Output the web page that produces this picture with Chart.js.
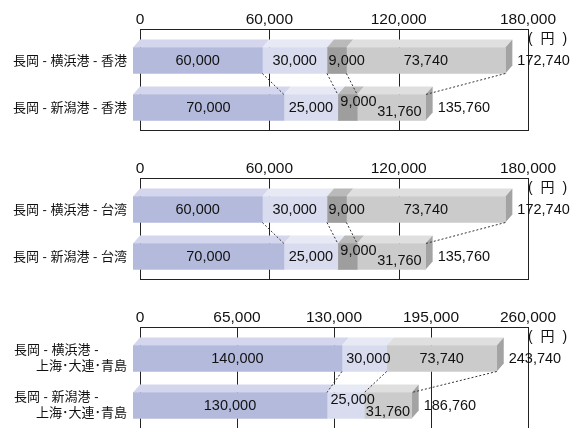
<!DOCTYPE html>
<html>
<head>
<meta charset="utf-8">
<script src="https://cdn.jsdelivr.net/npm/chart.js@4.4.0/dist/chart.umd.min.js"></script>
<style>
  body { margin: 0; background: #fff; width: 579px; height: 428px; overflow: hidden; position: relative; }
  canvas { position: absolute; left: 0; }
</style>
</head>
<body>
<canvas id="c1" width="579" height="149" style="top:0"></canvas>
<canvas id="c2" width="579" height="149" style="top:149px"></canvas>
<canvas id="c3" width="579" height="130" style="top:298px"></canvas>
<script>
    // routes (row 1 = via Yokohama, row 2 = via Niigata)
    const routesHK = ['長岡 - 横浜港 - 香港', '長岡 - 新潟港 - 香港'];
    const routesTW = ['長岡 - 横浜港 - 台湾', '長岡 - 新潟港 - 台湾'];
    const routesCN = [['長岡 - 横浜港 -', '上海･大連･青島'], ['長岡 - 新潟港 -', '上海･大連･青島']];

    // cost parts in yen, Hong Kong / Taiwan
    const inland = [60000, 70000];
    const port = [30000, 25000];
    const extra = [9000, 9000];
    const sea = [73740, 31760];

    // cost parts in yen, Shanghai / Dalian / Qingdao
    const inlandCN = [140000, 130000];
    const portCN = [30000, 25000];
    const extraCN = [null, null];
    const seaCN = [73740, 31760];

    // axis ticks
    const ticksHK = [0, 60000, 120000, 180000];
    const ticksCN = [0, 65000, 130000, 195000, 260000];

    const FONT = '"Liberation Sans", "Noto Sans CJK JP", sans-serif';
    const FRONT = ['#b4badc', '#d9dcef', '#9e9e9e', '#cbcbcb'];
    const TOP = ['#d3d6ec', '#e7e9f5', '#bababa', '#dfdfdf'];
    const SIDE = '#a3a3a3';
    const DX = 7, DY = 8;   // depth of the 3d bars
    const AREA_BOTTOM = 123;

    const fmt = v => v.toLocaleString('en-US');

    function poly(ctx, pts, fill) {
        ctx.beginPath();
        ctx.moveTo(pts[0][0], pts[0][1]);
        pts.slice(1).forEach(p => ctx.lineTo(p[0], p[1]));
        ctx.closePath();
        ctx.fillStyle = fill;
        ctx.fill();
    }

    function line(ctx, x0, y0, x1, y1) {
        ctx.beginPath();
        ctx.moveTo(x0, y0);
        ctx.lineTo(x1, y1);
        ctx.stroke();
    }

    // segments that have a value in row j
    function rowSegments(chart, j) {
        const out = [];
        chart.data.datasets.forEach((ds, i) => {
            if (!ds.data[j]) return;
            const el = chart.getDatasetMeta(i).data[j];
            out.push({ i, v: ds.data[j], x0: el.base, x1: el.x, y: el.y, h: el.height });
        });
        return out;
    }

    const bar3d = {
        id: 'bar3d',
        beforeDatasetsDraw(chart) {
            const { ctx, chartArea: a, scales: { x } } = chart;
            const opt = chart.options.plugins.bar3d;
            const bottom = opt.boxBottom || chart.height;

            ctx.save();
            ctx.strokeStyle = '#222';
            ctx.lineWidth = 1;
            x.ticks.forEach(t => {
                const px = Math.round(x.getPixelForValue(t.value)) + 0.5;
                line(ctx, px, a.top, px, bottom);
            });
            const top = Math.round(a.top) + 0.5;
            line(ctx, Math.round(a.left), top, Math.round(a.right) + 1, top);
            if (opt.boxBottom) {
                const b = Math.round(bottom) - 0.5;
                line(ctx, Math.round(a.left), b, Math.round(a.right) + 1, b);
            }

            // top and side faces
            [0, 1].forEach(j => {
                const segs = rowSegments(chart, j);
                segs.forEach(s => {
                    const yT = s.y - s.h / 2;
                    poly(ctx, [[s.x0 - DX, yT + DY], [s.x1 - DX, yT + DY], [s.x1, yT], [s.x0, yT]], TOP[s.i]);
                });
                const last = segs[segs.length - 1];
                const yT = last.y - last.h / 2, yB = last.y + last.h / 2;
                poly(ctx, [[last.x1 - DX, yT + DY], [last.x1, yT], [last.x1, yB], [last.x1 - DX, yB + DY]], SIDE);
            });
            ctx.restore();

            // front faces are the library's bars moved forward
            ctx.save();
            ctx.translate(-DX, DY);
        },
        afterDatasetsDraw(chart) {
            const { ctx, chartArea: a } = chart;
            const opt = chart.options.plugins.bar3d;
            ctx.restore();

            ctx.save();
            const rows = [rowSegments(chart, 0), rowSegments(chart, 1)];

            // dashed connectors between the two rows
            ctx.strokeStyle = '#333';
            ctx.lineWidth = 1;
            ctx.setLineDash([2, 2]);
            const r0 = rows[0], r1 = rows[1];
            for (let k = 0; k < Math.min(r0.length, r1.length); k++) {
                const yB0 = r0[k].y + r0[k].h / 2 + DY;
                const yT1 = r1[k].y - r1[k].h / 2 + DY;
                line(ctx, r0[k].x1 - DX, yB0, r1[k].x1 - DX, yT1);
            }
            ctx.setLineDash([]);

            // values in the segments and totals
            ctx.fillStyle = '#111';
            ctx.textBaseline = 'middle';
            ctx.font = '14.5px ' + FONT;
            rows.forEach((segs, j) => {
                segs.forEach(s => {
                    const sh = opt.shift[s.i + ',' + j] || [0, 0];
                    ctx.textAlign = 'center';
                    ctx.fillText(fmt(s.v), (s.x0 + s.x1) / 2 - DX + sh[0], s.y + DY + sh[1]);
                });
                const last = segs[segs.length - 1];
                const total = segs.reduce((sum, s) => sum + s.v, 0);
                ctx.textAlign = 'left';
                ctx.fillText(fmt(total), last.x1 + 5, last.y + DY);
            });

            // route names
            ctx.font = '13px ' + FONT;
            chart.data.labels.forEach((lab, j) => {
                const cy = chart.scales.y.getPixelForValue(j) + DY;
                if (Array.isArray(lab)) {
                    ctx.textAlign = 'left';
                    ctx.fillText(lab[0], 14, cy - 8);
                    ctx.textAlign = 'right';
                    ctx.fillText(lab[1], 127, cy + 8);
                } else {
                    ctx.textAlign = 'right';
                    ctx.fillText(lab, 127, cy + 1);
                }
            });

            // unit
            ctx.textAlign = 'left';
            ctx.font = '14px ' + FONT;
            ctx.letterSpacing = '2px';
            ctx.fillText('( 円 )', a.right, a.top + 10);
            ctx.restore();
        }
    };

    function makePanel(id, labels, parts, tickValues, boxBottom, shift) {
        const canvas = document.getElementById(id);
        return new Chart(canvas.getContext('2d'), {
            type: 'bar',
            data: {
                labels: labels,
                datasets: parts.map((d, i) => ({
                    data: d,
                    backgroundColor: FRONT[i],
                    borderWidth: 0,
                    barThickness: 26
                }))
            },
            options: {
                indexAxis: 'y',
                responsive: false,
                animation: false,
                layout: { padding: { left: 0, right: 51, top: 0, bottom: canvas.height - AREA_BOTTOM } },
                plugins: {
                    legend: { display: false },
                    tooltip: { enabled: false },
                    bar3d: { boxBottom: boxBottom, shift: shift }
                },
                scales: {
                    x: {
                        type: 'linear',
                        position: 'top',
                        stacked: true,
                        min: 0,
                        max: tickValues[tickValues.length - 1],
                        afterBuildTicks: s => { s.ticks = tickValues.map(v => ({ value: v })); },
                        afterFit: s => { s.height = 29; },
                        grid: { display: false, drawTicks: false },
                        border: { display: false },
                        ticks: {
                            autoSkip: false,
                            maxRotation: 0,
                            padding: 0,
                            color: '#111',
                            font: { family: FONT, size: 15.5 },
                            callback: v => fmt(v)
                        }
                    },
                    y: {
                        stacked: true,
                        afterFit: s => { s.width = 140; },
                        grid: { display: false },
                        border: { display: false },
                        ticks: { display: false }
                    }
                }
            },
            plugins: [bar3d]
        });
    }

    makePanel('c1', routesHK, [inland, port, extra, sea], ticksHK, 131,
        { '2,0': [10, 0], '2,1': [11, -6], '3,1': [8, 4] });
    makePanel('c2', routesTW, [inland, port, extra, sea], ticksHK, 131,
        { '2,0': [10, 0], '2,1': [11, -6], '3,1': [8, 4] });
    makePanel('c3', routesCN, [inlandCN, portCN, extraCN, seaCN], ticksCN, null,
        { '1,0': [4, 0], '1,1': [7, -6], '3,1': [0, 6] });
</script>
</body>
</html>
